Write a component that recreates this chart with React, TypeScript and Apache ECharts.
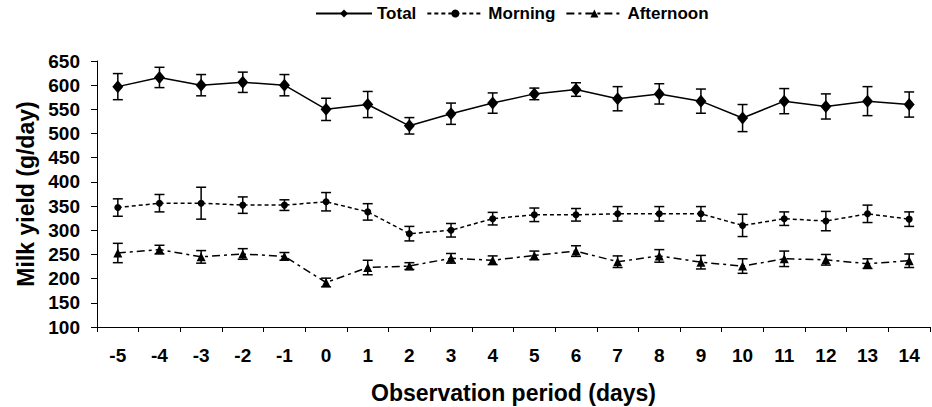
import React, { useEffect, useRef } from "react";
import * as echarts from "echarts";

const days = ["-5", "-4", "-3", "-2", "-1", "0", "1", "2", "3", "4", "5", "6", "7", "8", "9", "10", "11", "12", "13", "14"];
const total = [597, 616, 600, 606, 600, 550, 560, 516, 541, 563, 582, 591, 572, 582, 567, 532, 567, 556, 567, 560];
const totalErr = [27, 21, 22, 21, 22, 23, 27, 17, 22, 21, 12, 14, 25, 21, 25, 28, 26, 26, 30, 26];
const morning = [347, 356, 356, 352, 352, 359, 338, 293, 300, 324, 332, 332, 334, 334, 334, 310, 324, 319, 334, 323];
const morningErr = [18, 18, 33, 17, 11, 19, 17, 15, 14, 13, 14, 13, 15, 15, 15, 23, 14, 20, 18, 15];
const afternoon = [253, 260, 245, 251, 246, 192, 223, 226, 242, 238, 248, 257, 235, 247, 234, 226, 241, 239, 231, 237];
const afternoonErr = [20, 9, 13, 11, 8, 9, 15, 7, 10, 9, 9, 11, 12, 13, 14, 15, 16, 11, 10, 14];
const yTicks = { min: 100, max: 650, interval: 50 };

const FONT = "'Liberation Sans', Arial, Helvetica, sans-serif";

function errData(vals: number[], errs: number[]) {
  return vals.map((v, i) => [i, v - errs[i], v + errs[i]]);
}

function errSeries(name: string, vals: number[], errs: number[]) {
  return {
    type: "custom",
    name,
    data: errData(vals, errs),
    encode: { x: 0, y: [1, 2] },
    z: 1,
    silent: true,
    renderItem: (params: any, api: any) => {
      const x = api.value(0);
      const lo = api.coord([x, api.value(1)]);
      const hi = api.coord([x, api.value(2)]);
      const hw = 5;
      const st = { stroke: "#000", lineWidth: 1.5 };
      return {
        type: "group",
        children: [
          { type: "line", shape: { x1: hi[0], y1: hi[1], x2: lo[0], y2: lo[1] }, style: st },
          { type: "line", shape: { x1: hi[0] - hw, y1: hi[1], x2: hi[0] + hw, y2: hi[1] }, style: st },
          { type: "line", shape: { x1: lo[0] - hw, y1: lo[1], x2: lo[0] + hw, y2: lo[1] }, style: st },
        ],
      };
    },
  };
}

export default function App() {
  const ref = useRef<HTMLDivElement>(null);
  useEffect(() => {
    document.body.style.margin = "0";
    const chart = echarts.init(ref.current!, null, { renderer: "svg" });
    chart.setOption({
      animation: false,
      backgroundColor: "#fff",
      textStyle: { fontFamily: FONT },
      legend: {
        left: 315,
        top: 5,
        padding: 0,
        itemWidth: 56,
        itemHeight: 10,
        itemGap: 10,
        data: ["Total", "Morning", "Afternoon"],
        textStyle: { fontFamily: FONT, fontWeight: "bold", fontSize: 17, color: "#000" },
      },
      grid: { left: 97, right: 2, top: 61, bottom: 80, containLabel: false, outerBoundsMode: "none" },
      xAxis: {
        type: "category",
        data: days,
        boundaryGap: true,
        name: "Observation period (days)",
        nameLocation: "middle",
        nameGap: 54,
        nameTextStyle: { fontFamily: FONT, fontWeight: "bold", fontSize: 23, color: "#000" },
        axisLine: { lineStyle: { color: "#000", width: 1 } },
        axisTick: { show: true, length: 5, lineStyle: { color: "#000" }, alignWithLabel: false },
        axisLabel: { interval: 0, margin: 19, fontFamily: FONT, fontWeight: "bold", fontSize: 19, color: "#000" },
        splitLine: { show: false },
      },
      yAxis: {
        type: "value",
        min: yTicks.min,
        max: yTicks.max,
        interval: yTicks.interval,
        name: "Milk yield (g/day)",
        nameLocation: "middle",
        nameGap: 56,
        nameTextStyle: { fontFamily: FONT, fontWeight: "bold", fontSize: 23, color: "#000" },
        axisLine: { show: true, lineStyle: { color: "#000", width: 1 } },
        axisTick: { show: true, length: 6, lineStyle: { color: "#000" } },
        axisLabel: { margin: 17, fontFamily: FONT, fontWeight: "bold", fontSize: 19, color: "#000" },
        splitLine: { show: false },
      },
      series: [
        errSeries("Total err", total, totalErr),
        errSeries("Morning err", morning, morningErr),
        errSeries("Afternoon err", afternoon, afternoonErr),
        {
          type: "line",
          name: "Total",
          data: total,
          symbol: "diamond",
          symbolSize: [11, 13],
          z: 3,
          lineStyle: { color: "#000", width: 1.5, type: "solid" },
          itemStyle: { color: "#000" },
        },
        {
          type: "line",
          name: "Morning",
          data: morning,
          symbol: "circle",
          symbolSize: 7,
          z: 3,
          lineStyle: { color: "#000", width: 1.5, type: [4, 3] },
          itemStyle: { color: "#000" },
        },
        {
          type: "line",
          name: "Afternoon",
          data: afternoon,
          symbol: "triangle",
          symbolSize: 9,
          z: 3,
          lineStyle: { color: "#000", width: 1.5, type: [8, 4, 3, 4] },
          itemStyle: { color: "#000" },
        },
      ],
    });
    return () => chart.dispose();
  }, []);
  return <div ref={ref} style={{ width: 932, height: 407 }} />;
}
